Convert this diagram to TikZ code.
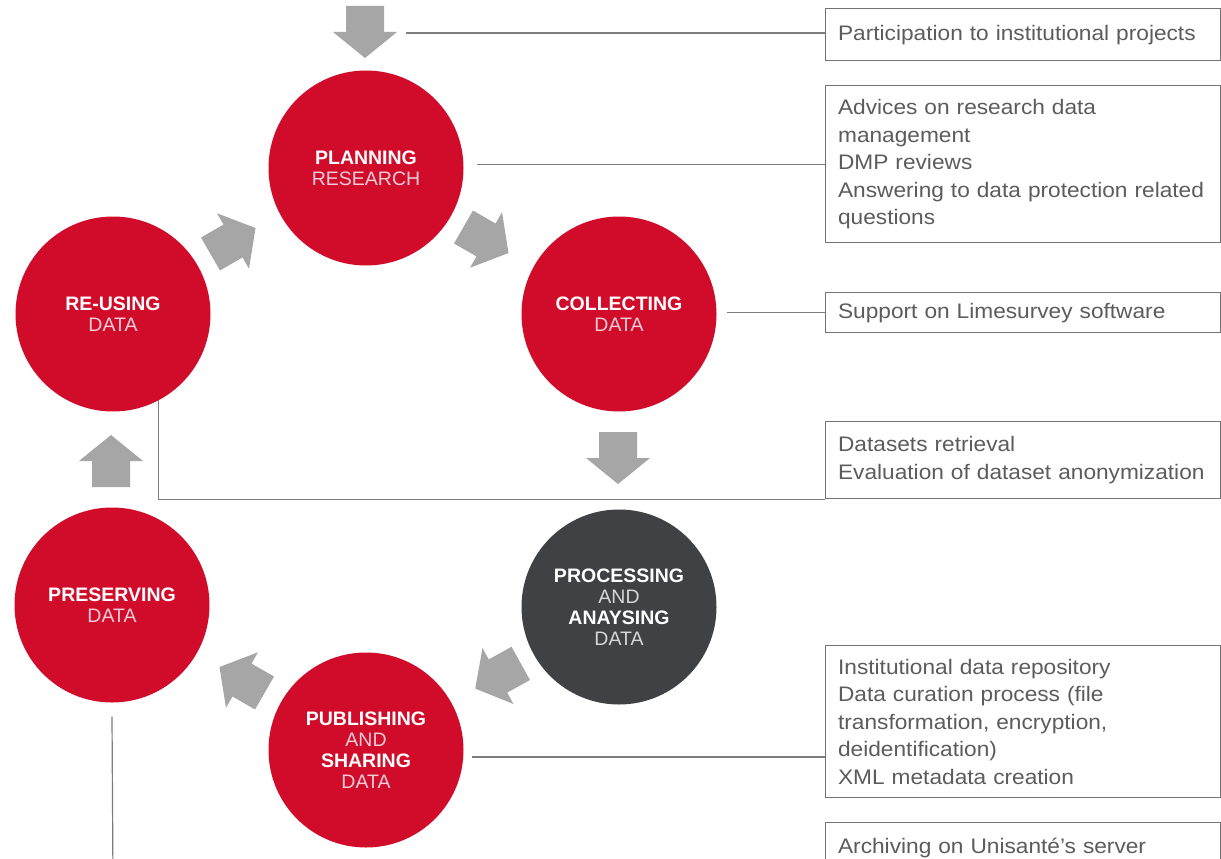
\documentclass[tikz,border=0pt]{standalone}
\usepackage{fontspec}
\setmainfont{Liberation Sans}
\newfontfamily\boxfont[FakeStretch=1.08]{Liberation Sans}
\definecolor{cred}{RGB}{208,12,42}
\definecolor{cdark}{RGB}{64,65,69}
\definecolor{carrow}{RGB}{166,166,166}
\definecolor{cline}{RGB}{125,125,125}
\definecolor{cbox}{RGB}{115,115,115}
\definecolor{ctext}{RGB}{92,92,92}
\definecolor{cpink}{RGB}{240,205,215}
\definecolor{cgraysub}{RGB}{215,215,218}
\newcommand\phsub[1]{\textcolor{cpink}{#1}}
\newcommand\phgsub[1]{\textcolor{cgraysub}{#1}}
\begin{document}
\begin{tikzpicture}[x=1pt,y=1pt,
  phase/.style={circle, fill=cred, minimum size=195pt, inner sep=0pt, align=center,
    text=white, font=\fontsize{19.5}{21}\selectfont},
  darkphase/.style={phase, fill=cdark},
  infobox/.style={draw=cbox, line width=1.2pt, rectangle, anchor=north west,
    minimum width=395pt, text width=370pt, inner xsep=12pt, align=left,
    text=ctext, font=\boxfont\fontsize{21}{27.5}\selectfont},
  conn/.style={draw=cline, line width=1.2pt},
  blockarrow/.pic={\fill[carrow] (-26,19) -- (0,19) -- (0,32) -- (26,0) -- (0,-32) -- (0,-19) -- (-26,-19) -- cycle;}
]
\clip (0,0) rectangle (1221,-859);
\fill[white] (0,0) rectangle (1221,-859);

% phases
\node[phase] (plan) at (366,-168) {\textbf{PLANNING}\\\phsub{RESEARCH}};
\node[phase] (reuse) at (113,-314) {\textbf{RE-USING}\\\phsub{DATA}};
\node[phase] (coll) at (619,-314) {\textbf{COLLECTING}\\\phsub{DATA}};
\node[darkphase] (proc) at (619,-607) {\textbf{PROCESSING}\\\phgsub{AND}\\\textbf{ANAYSING}\\\phgsub{DATA}};
\node[phase] (pres) at (112,-605) {\textbf{PRESERVING}\\\phsub{DATA}};
\node[phase] (pub) at (366,-750) {\textbf{PUBLISHING}\\\phsub{AND}\\\textbf{SHARING}\\\phsub{DATA}};

% cycle arrows
\pic[rotate=-90] at (365,-32) {blockarrow};
\pic[rotate=30] at (233,-241) {blockarrow};
\pic[rotate=-30] at (486,-240) {blockarrow};
\pic[rotate=-90] at (618,-458) {blockarrow};
\pic[rotate=209] at (498,-676) {blockarrow};
\pic[rotate=150] at (242,-680) {blockarrow};
\pic[rotate=90] at (111,-461) {blockarrow};

% info boxes
\node[infobox, minimum height=52pt] (b1) at (825,-8) {Participation to institutional projects};
\node[infobox, minimum height=157pt] (b2) at (825,-85) {Advices on research data\\management\\DMP reviews\\Answering to data protection related\\questions};
\node[infobox, minimum height=40pt] (b3) at (825,-292) {Support on Limesurvey software};
\node[infobox, minimum height=77pt] (b4) at (825,-421) {Datasets retrieval\\Evaluation of dataset anonymization};
\node[infobox, minimum height=152pt] (b5) at (825,-645) {Institutional data repository\\Data curation process (file\\transformation, encryption,\\deidentification)\\XML metadata creation};
\node[infobox, minimum height=50pt] (b6) at (825,-822) {Archiving on Unisanté’s server};

% connectors
\coordinate (topin) at (406,-33);
\draw[conn] (topin) -- (topin -| b1.west);
\draw[conn] ([xshift=13pt]b2.west -| plan.east) -- (b2.west);
\draw[conn] ([xshift=10pt]b3.west -| coll.east) -- (b3.west);
\draw[conn] (reuse.-62.5) |- (b4.south west);
\draw[conn] ([xshift=8pt,yshift=-7pt]pub.east) coordinate (p1) -- (p1 -| b5.west);
\coordinate (presend) at (113,-880);
\draw[conn] ([yshift=-14pt]pres.south) -- (presend);
\end{tikzpicture}
\end{document}
